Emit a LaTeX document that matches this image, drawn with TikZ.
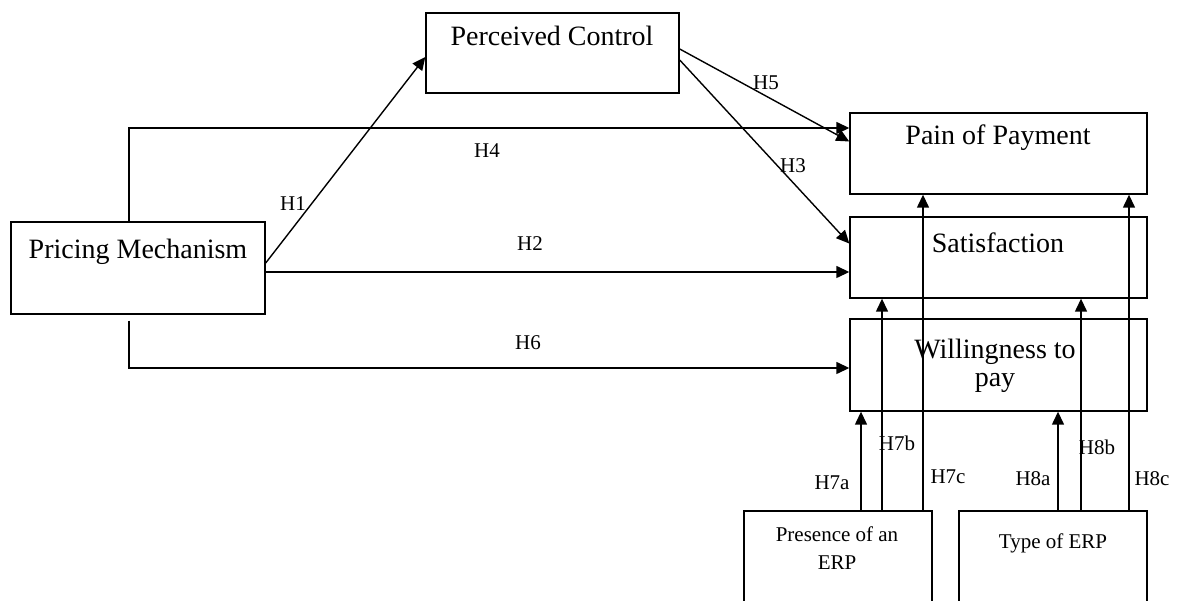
\documentclass[tikz,border=0pt]{standalone}
\usepackage{fontspec}
\setmainfont{Liberation Serif}
\usetikzlibrary{arrows.meta,calc}
\tikzset{
  box/.style={draw, line width=1.4pt, minimum width=#1, inner sep=0pt},
  arr/.style={line width=1.4pt, -{Triangle[length=13pt,width=12pt]}},
  big/.style={font=\fontsize{28}{28}\selectfont, inner sep=0pt},
  small/.style={font=\fontsize{21}{28}\selectfont, inner sep=0pt, align=center},
  hyp/.style={font=\fontsize{21}{24}\selectfont, inner sep=0pt}
}
\begin{document}
\begin{tikzpicture}[x=1pt, y=-1pt]
        \clip (0,0) rectangle (1181,601);
        % boxes
        \node[box=254pt, minimum height=92pt] (pm) at (138,268) {};
        \node[box=253pt, minimum height=80pt] (pc) at (552.5,53) {};
        \node[box=297pt, minimum height=81pt] (pain) at (998.5,153.5) {};
        \node[box=297pt, minimum height=81pt] (sat) at (998.5,257.5) {};
        \node[box=297pt, minimum height=92pt] (wtp) at (998.5,365) {};
        \node[box=188pt, minimum height=140pt] (pres) at (838,581) {};
        \node[box=188pt, minimum height=140pt] (type) at (1053,581) {};
        % box texts
        \node[big] (pmtext) at (138,252) {Pricing Mechanism};
        \node[big] (pctext) at (552,36) {Perceived Control};
        \node[big] (paintext) at (998,138) {Pain of Payment};
        \node[big] (sattext) at (998,243) {Satisfaction};
        \node[big, align=center] (wtptext) at (995,366) {Willingness to\\pay};
        \node[small] (prestext) at (837,548) {Presence of an\\ERP};
        \node[small] (typetext) at (1053,543) {Type of ERP};
        % connector ends
        \coordinate (h4s) at ($(pm.north)+(-9,0)$);
        \coordinate (h6s) at ($(pm.south)+(-9,6)$);
        \coordinate (h2s) at ($(pm.east)+(0,4)$);
        \coordinate (h7a) at (pres.north -| 861,0);
        \coordinate (h7b) at (pres.north -| 882,0);
        \coordinate (h7c) at (pres.north -| 923,0);
        \coordinate (h8a) at (type.north -| 1058,0);
        \coordinate (h8b) at (type.north -| 1081,0);
        \coordinate (h8c) at (type.north -| 1129,0);
        % paths
        \draw[arr] ($(pm.east)+(0,-5)$) -- ($(pc.west)+(0,4)$);
        \draw[arr] (h2s) -- (h2s -| sat.west);
        \draw[arr] ($(pc.east)+(0,7)$) -- ($(sat.west)+(0,-14)$);
        \draw[arr] (h4s) |- ($(pain.west)+(0,-25.5)$);
        \draw[arr] ($(pc.east)+(0,-4)$) -- ($(pain.west)+(0,-12)$);
        \draw[arr] (h6s) |- ($(wtp.west)+(0,3)$);
        \draw[arr] (h7a) -- (h7a |- wtp.south);
        \draw[arr] (h7b) -- (h7b |- sat.south);
        \draw[arr] (h7c) -- (h7c |- pain.south);
        \draw[arr] (h8a) -- (h8a |- wtp.south);
        \draw[arr] (h8b) -- (h8b |- sat.south);
        \draw[arr] (h8c) -- (h8c |- pain.south);
        % hypothesis labels
        \node[hyp] (lh1) at (293,204) {H1};
        \node[hyp] (lh2) at (530,244) {H2};
        \node[hyp] (lh3) at (793,166) {H3};
        \node[hyp] (lh4) at (487,151) {H4};
        \node[hyp] (lh5) at (766,83) {H5};
        \node[hyp] (lh6) at (528,343) {H6};
        \node[hyp] (lh7a) at (832,483) {H7a};
        \node[hyp] (lh7b) at (897,443) {H7b};
        \node[hyp] (lh7c) at (948,477) {H7c};
        \node[hyp] (lh8a) at (1033,479) {H8a};
        \node[hyp] (lh8b) at (1097,447) {H8b};
        \node[hyp] (lh8c) at (1152,479) {H8c};
\end{tikzpicture}
\end{document}
